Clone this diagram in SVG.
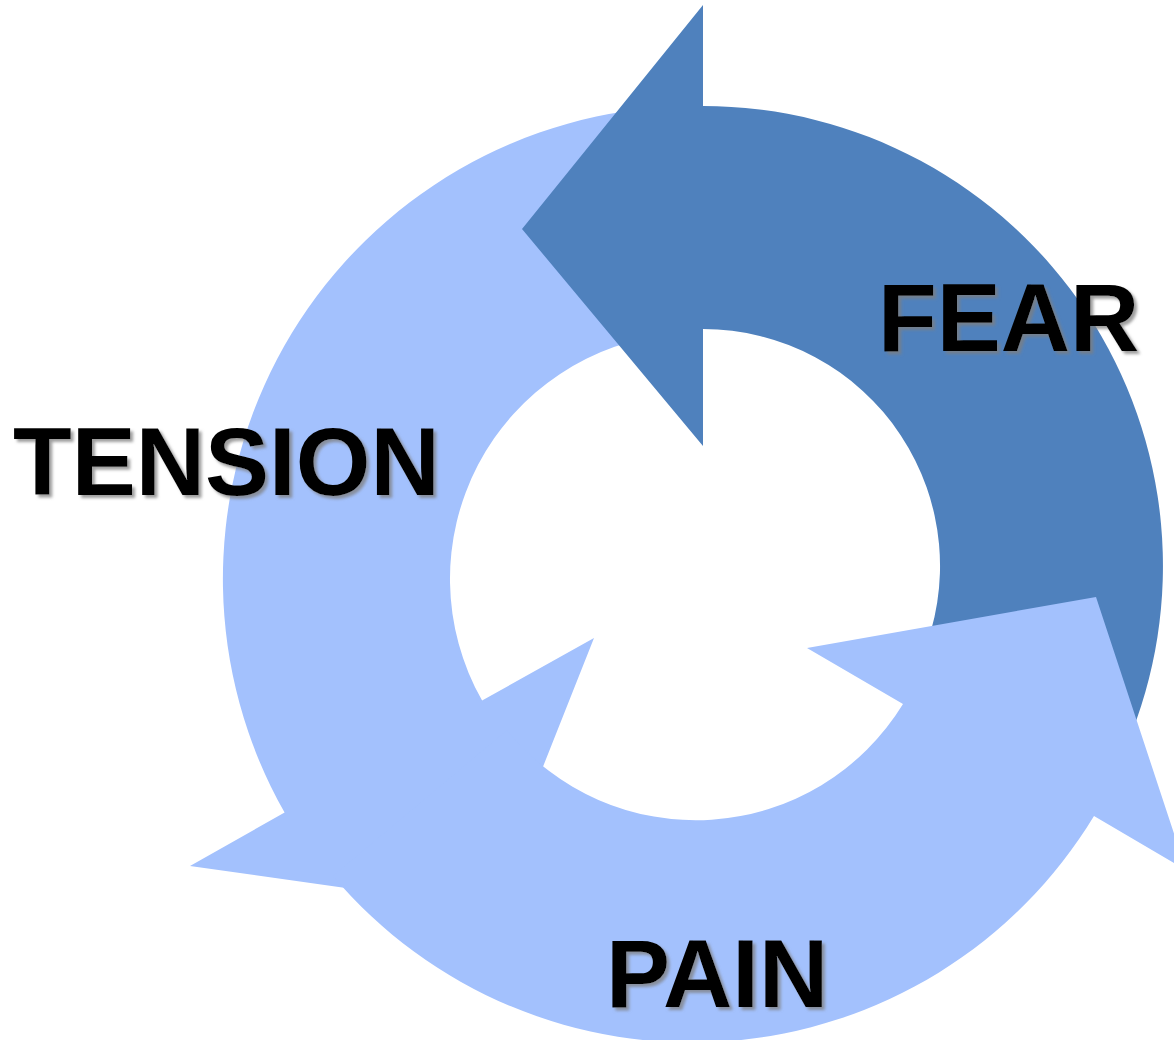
<svg xmlns="http://www.w3.org/2000/svg" width="1174" height="1040" viewBox="0 0 1174 1040">
  <defs>
    <filter id="shadow" x="-10%" y="-20%" width="130%" height="150%">
      <feDropShadow dx="3" dy="3" stdDeviation="1.6" flood-color="#7f7f7f" flood-opacity="0.75"/>
    </filter>
  </defs>
  <style>
    .light { fill: #A3C1FD; }
    .dark { fill: #4F81BD; }
    .label { font-family: "Liberation Sans", Arial, sans-serif; font-weight: bold; font-size: 96px; fill: #000000; filter: url(#shadow); }
  </style>
  <rect width="1174" height="1040" fill="#ffffff"/>
  <g id="connectors">
    <path id="arrow-tension" class="light" d="M 654.8,107.8 A 473 473 0 0 0 284.6,812.6 L 190,866 L 487,908 L 594,638 L 482.1,700.5 A 246 246 0 0 1 674.6,333.9 Z"/>
    <path id="arrow-fear" class="dark" d="M 703,5 L 703,106 A 460 460 0 0 1 1126.4,745.7 L 921.2,658.6 A 237 237 0 0 0 703,329 L 703,446 L 522,229 Z"/>
    <path id="arrow-pain" class="light" d="M 333,876 A 470 470 0 0 0 1094,816 L 1186,870 L 1096,597 L 807,648 L 903,704 A 243 243 0 0 1 506.9,730.2 Z"/>
  </g>
  <g id="node-fear">
    <text class="label" x="878" y="351">FEAR</text>
  </g>
  <g id="node-tension">
    <text class="label" x="13" y="495">TENSION</text>
  </g>
  <g id="node-pain">
    <text class="label" x="606" y="1007">PAIN</text>
  </g>
</svg>
